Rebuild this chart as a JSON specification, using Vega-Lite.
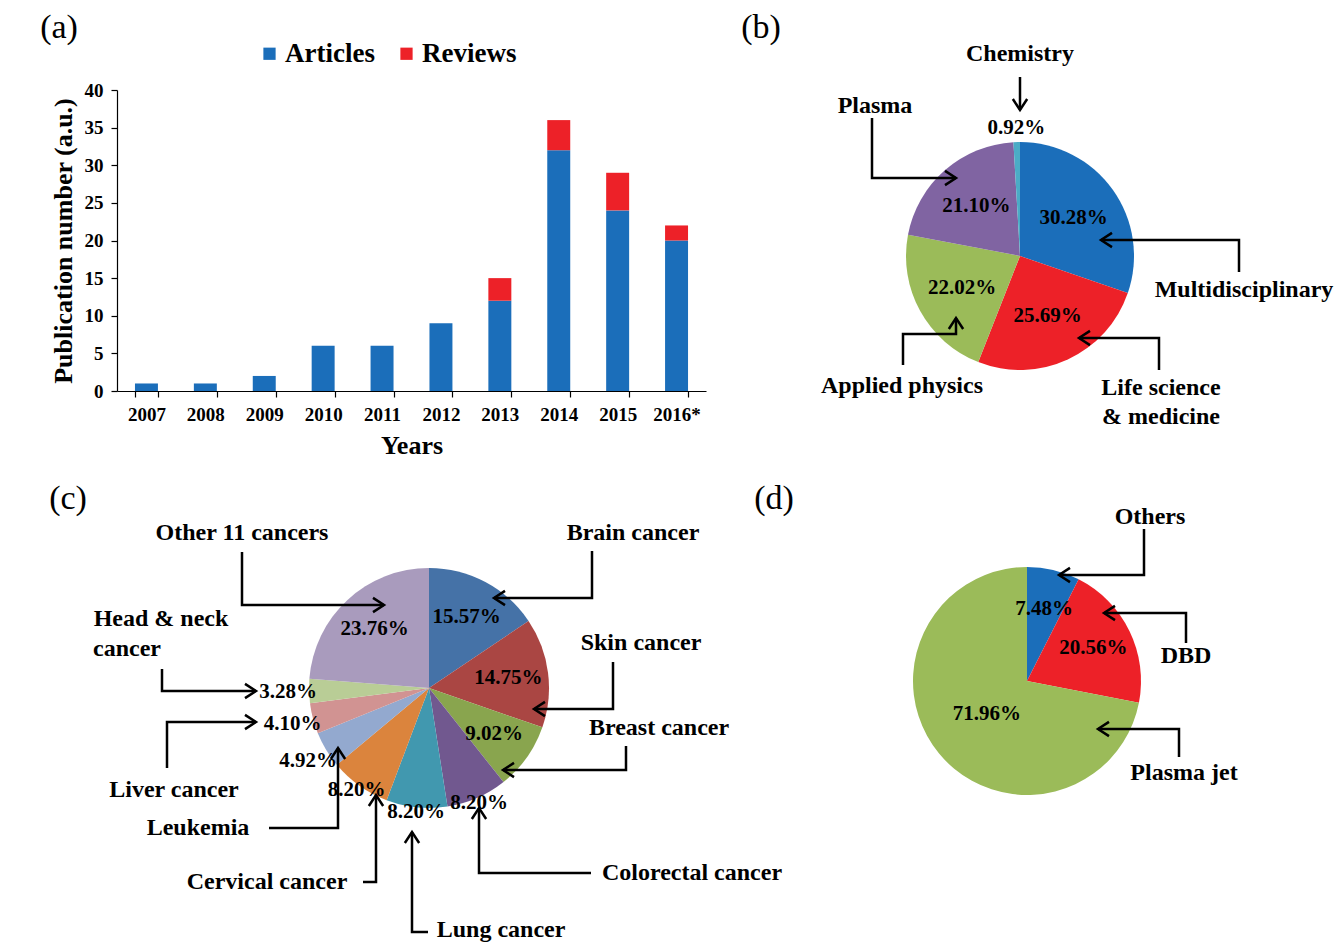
{
  "$schema": "https://vega.github.io/schema/vega-lite/v6.json",
  "background": "white",
  "padding": {"left": 40, "top": 11, "right": 0, "bottom": 0},
  "config": {
    "view": {"stroke": null},
    "font": "Liberation Serif",
    "axis": {"domainColor": "black", "tickColor": "black", "labelColor": "black", "titleColor": "black", "labelFont": "Liberation Serif", "titleFont": "Liberation Serif", "labelFontWeight": "bold", "titleFontWeight": "bold", "labelFontSize": 19, "titleFontSize": 26, "grid": false, "tickSize": 6, "domainWidth": 1.2, "tickWidth": 1.2}
  },
  "resolve": {"scale": {"color": "independent", "shape": "independent", "theta": "independent"}, "legend": {"color": "independent", "shape": "independent"}},
  "columns": 2,
  "bounds": "flush",
  "align": "each",
  "spacing": {"row": 15, "column": 15},
  "datasets": {
    "pieB": [
      {"field": "Multidisciplinary", "share": 0.3028, "idx": 1},
      {"field": "Life science & medicine", "share": 0.2569, "idx": 2},
      {"field": "Applied physics", "share": 0.2202, "idx": 3},
      {"field": "Plasma", "share": 0.2110, "idx": 4},
      {"field": "Chemistry", "share": 0.0092, "idx": 5}
    ],
    "pieC": [
      {"field": "Brain cancer", "share": 0.1557, "idx": 1},
      {"field": "Skin cancer", "share": 0.1475, "idx": 2},
      {"field": "Breast cancer", "share": 0.0902, "idx": 3},
      {"field": "Colorectal cancer", "share": 0.0820, "idx": 4},
      {"field": "Lung cancer", "share": 0.0820, "idx": 5},
      {"field": "Cervical cancer", "share": 0.0820, "idx": 6},
      {"field": "Leukemia", "share": 0.0492, "idx": 7},
      {"field": "Liver cancer", "share": 0.0410, "idx": 8},
      {"field": "Head & neck cancer", "share": 0.0328, "idx": 9},
      {"field": "Other 11 cancers", "share": 0.2376, "idx": 10}
    ],
    "pieD": [
      {"field": "Others", "share": 0.0748, "idx": 1},
      {"field": "DBD", "share": 0.2056, "idx": 2},
      {"field": "Plasma jet", "share": 0.7196, "idx": 3}
    ],
    "arrowsB": [
      {"id": "chem", "seq": 1, "x": 1019, "y": 77},
      {"id": "chem", "seq": 2, "x": 1019, "y": 110, "dir": "down"},
      {"id": "plasma", "seq": 1, "x": 871, "y": 118},
      {"id": "plasma", "seq": 2, "x": 871, "y": 178},
      {"id": "plasma", "seq": 3, "x": 955, "y": 178, "dir": "right"},
      {"id": "multi", "seq": 1, "x": 1238, "y": 272},
      {"id": "multi", "seq": 2, "x": 1238, "y": 240},
      {"id": "multi", "seq": 3, "x": 1100, "y": 240, "dir": "left"},
      {"id": "life", "seq": 1, "x": 1158, "y": 370},
      {"id": "life", "seq": 2, "x": 1158, "y": 338},
      {"id": "life", "seq": 3, "x": 1078, "y": 338, "dir": "left"},
      {"id": "applied", "seq": 1, "x": 902, "y": 365},
      {"id": "applied", "seq": 2, "x": 902, "y": 334},
      {"id": "applied", "seq": 3, "x": 955, "y": 334},
      {"id": "applied", "seq": 4, "x": 955, "y": 318, "dir": "up"}
    ],
    "arrowsC": [
      {"id": "other", "seq": 1, "x": 241, "y": 552},
      {"id": "other", "seq": 2, "x": 241, "y": 605},
      {"id": "other", "seq": 3, "x": 383, "y": 605, "dir": "right"},
      {"id": "brain", "seq": 1, "x": 591, "y": 551},
      {"id": "brain", "seq": 2, "x": 591, "y": 598},
      {"id": "brain", "seq": 3, "x": 493, "y": 598, "dir": "left"},
      {"id": "head", "seq": 1, "x": 161, "y": 669},
      {"id": "head", "seq": 2, "x": 161, "y": 691},
      {"id": "head", "seq": 3, "x": 255, "y": 691, "dir": "right"},
      {"id": "liver", "seq": 1, "x": 166, "y": 768},
      {"id": "liver", "seq": 2, "x": 166, "y": 722},
      {"id": "liver", "seq": 3, "x": 255, "y": 722, "dir": "right"},
      {"id": "leuk", "seq": 1, "x": 268, "y": 828},
      {"id": "leuk", "seq": 2, "x": 337, "y": 828},
      {"id": "leuk", "seq": 3, "x": 337, "y": 748, "dir": "up"},
      {"id": "cerv", "seq": 1, "x": 362, "y": 882},
      {"id": "cerv", "seq": 2, "x": 375, "y": 882},
      {"id": "cerv", "seq": 3, "x": 375, "y": 795, "dir": "up"},
      {"id": "lung", "seq": 1, "x": 427, "y": 932},
      {"id": "lung", "seq": 2, "x": 411, "y": 932},
      {"id": "lung", "seq": 3, "x": 411, "y": 832, "dir": "up"},
      {"id": "colo", "seq": 1, "x": 590, "y": 873},
      {"id": "colo", "seq": 2, "x": 478, "y": 873},
      {"id": "colo", "seq": 3, "x": 478, "y": 808, "dir": "up"},
      {"id": "skin", "seq": 1, "x": 612, "y": 662},
      {"id": "skin", "seq": 2, "x": 612, "y": 709},
      {"id": "skin", "seq": 3, "x": 533, "y": 709, "dir": "left"},
      {"id": "breast", "seq": 1, "x": 625, "y": 746},
      {"id": "breast", "seq": 2, "x": 625, "y": 770},
      {"id": "breast", "seq": 3, "x": 502, "y": 770, "dir": "left"}
    ],
    "arrowsD": [
      {"id": "others", "seq": 1, "x": 1143, "y": 529},
      {"id": "others", "seq": 2, "x": 1143, "y": 575},
      {"id": "others", "seq": 3, "x": 1058, "y": 575, "dir": "left"},
      {"id": "dbd", "seq": 1, "x": 1185, "y": 643},
      {"id": "dbd", "seq": 2, "x": 1185, "y": 613},
      {"id": "dbd", "seq": 3, "x": 1103, "y": 613, "dir": "left"},
      {"id": "jet", "seq": 1, "x": 1178, "y": 757},
      {"id": "jet", "seq": 2, "x": 1178, "y": 729},
      {"id": "jet", "seq": 3, "x": 1097, "y": 729, "dir": "left"}
    ]
  },
  "concat": [
    {
      "width": 589,
      "height": 301,
      "data": {"values": [
        {"year": "2007", "type": "Articles", "count": 1},
        {"year": "2008", "type": "Articles", "count": 1},
        {"year": "2009", "type": "Articles", "count": 2},
        {"year": "2010", "type": "Articles", "count": 6},
        {"year": "2011", "type": "Articles", "count": 6},
        {"year": "2012", "type": "Articles", "count": 9},
        {"year": "2013", "type": "Articles", "count": 12},
        {"year": "2013", "type": "Reviews", "count": 3},
        {"year": "2014", "type": "Articles", "count": 32},
        {"year": "2014", "type": "Reviews", "count": 4},
        {"year": "2015", "type": "Articles", "count": 24},
        {"year": "2015", "type": "Reviews", "count": 5},
        {"year": "2016*", "type": "Articles", "count": 20},
        {"year": "2016*", "type": "Reviews", "count": 2}
      ]},
      "mark": {"type": "bar"},
      "encoding": {
        "x": {"field": "year", "type": "ordinal", "scale": {"paddingInner": 0.61, "paddingOuter": 0.305},
              "axis": {"title": "Years", "labelAngle": 0, "tickBand": "extent", "labelPadding": 8, "titlePadding": 8}},
        "y": {"field": "count", "type": "quantitative", "stack": "zero", "scale": {"domain": [0, 40], "nice": false},
              "axis": {"title": "Publication number (a.u.)", "values": [0, 5, 10, 15, 20, 25, 30, 35, 40], "labelPadding": 8, "titlePadding": 8}},
        "color": {"field": "type", "type": "nominal",
                  "scale": {"domain": ["Articles", "Reviews"], "range": ["#1B6EBA", "#ED2128"]},
                  "legend": {"orient": "none", "legendX": 139, "legendY": -50, "direction": "horizontal", "title": null,
                             "symbolType": "square", "symbolSize": 150, "symbolStrokeWidth": 0, "labelFontSize": 27,
                             "labelFontWeight": "bold", "labelFont": "Liberation Serif", "labelColor": "black",
                             "columnPadding": 18, "labelOffset": 2}},
        "order": {"field": "type", "sort": "ascending"}
      }
    },
    {
      "width": 600,
      "height": 301,
      "layer": [
        {
          "data": {"name": "pieB"},
          "mark": {"type": "arc", "outerRadius": 114},
          "encoding": {
            "x": {"datum": 1019, "type": "quantitative", "scale": {"domain": [720, 1320], "nice": false, "zero": false}, "axis": null},
            "y": {"datum": 256, "type": "quantitative", "scale": {"domain": [90, 391], "nice": false, "zero": false, "reverse": true}, "axis": null},
            "theta": {"field": "share", "type": "quantitative", "stack": true},
            "order": {"field": "idx", "type": "quantitative"},
            "color": {"field": "field", "type": "nominal",
                      "scale": {"domain": ["Multidisciplinary", "Life science & medicine", "Applied physics", "Plasma", "Chemistry"],
                                "range": ["#1B6EBA", "#ED2128", "#9BBB59", "#8064A2", "#4BACC6"]}, "legend": null}
          }
        },
        {
          "data": {"name": "pieB"},
          "mark": {"type": "text", "radius": {"expr": "datum.share < 0.02 ? 128 : 66"}, "fontSize": 21, "fontWeight": "bold", "font": "Liberation Serif", "color": "black"},
          "encoding": {
            "x": {"datum": 1019, "type": "quantitative", "axis": null},
            "y": {"datum": 256, "type": "quantitative", "axis": null},
            "theta": {"field": "share", "type": "quantitative", "stack": true},
            "order": {"field": "idx", "type": "quantitative"},
            "text": {"field": "share", "type": "quantitative", "format": ".2%"}
          }
        },
        {
          "data": {"name": "arrowsB"},
          "mark": {"type": "line", "color": "black", "strokeWidth": 2.5, "strokeCap": "butt"},
          "encoding": {
            "x": {"field": "x", "type": "quantitative", "axis": null},
            "y": {"field": "y", "type": "quantitative", "axis": null},
            "detail": {"field": "id"},
            "order": {"field": "seq", "type": "quantitative"}
          }
        },
        {
          "data": {"name": "arrowsB"},
          "transform": [{"filter": "isValid(datum.dir)"}],
          "mark": {"type": "point", "filled": false, "stroke": "black", "strokeWidth": 2.5, "size": 484, "opacity": 1},
          "encoding": {
            "x": {"field": "x", "type": "quantitative", "axis": null},
            "y": {"field": "y", "type": "quantitative", "axis": null},
            "shape": {"field": "dir", "type": "nominal", "legend": null,
                      "scale": {"domain": ["right", "left", "up", "down"],
                                "range": ["M-1,-0.65L0,0L-1,0.65", "M1,-0.65L0,0L1,0.65", "M-0.65,1L0,0L0.65,1", "M-0.65,-1L0,0L0.65,-1"]}}
          }
        },
        {
          "data": {"values": [
            {"label": "Chemistry", "x": 1019, "y": 54},
            {"label": "Plasma", "x": 874, "y": 106},
            {"label": "Multidisciplinary", "x": 1243, "y": 290},
            {"label": "Life science", "x": 1160, "y": 388},
            {"label": "& medicine", "x": 1160, "y": 417},
            {"label": "Applied physics", "x": 901, "y": 386}
          ]},
          "mark": {"type": "text", "fontSize": 24, "fontWeight": "bold", "font": "Liberation Serif", "color": "black", "align": "center", "baseline": "middle"},
          "encoding": {
            "x": {"field": "x", "type": "quantitative", "axis": null},
            "y": {"field": "y", "type": "quantitative", "axis": null},
            "text": {"field": "label"}
          }
        },
        {
          "data": {"values": [
            {"label": "(a)", "x": 58, "y": 28},
            {"label": "(b)", "x": 760, "y": 28}
          ]},
          "mark": {"type": "text", "fontSize": 34, "font": "Liberation Serif", "color": "black", "align": "center", "baseline": "middle"},
          "encoding": {
            "x": {"field": "x", "type": "quantitative", "axis": null},
            "y": {"field": "y", "type": "quantitative", "axis": null},
            "text": {"field": "label"}
          }
        }
      ]
    },
    {
      "width": 589,
      "height": 500,
      "layer": [
        {
          "data": {"name": "pieC"},
          "mark": {"type": "arc", "outerRadius": 120},
          "encoding": {
            "x": {"datum": 428, "type": "quantitative", "scale": {"domain": [116, 705], "nice": false, "zero": false}, "axis": null},
            "y": {"datum": 688, "type": "quantitative", "scale": {"domain": [406, 906], "nice": false, "zero": false, "reverse": true}, "axis": null},
            "theta": {"field": "share", "type": "quantitative", "stack": true},
            "order": {"field": "idx", "type": "quantitative"},
            "color": {"field": "field", "type": "nominal",
                      "scale": {"domain": ["Brain cancer", "Skin cancer", "Breast cancer", "Colorectal cancer", "Lung cancer", "Cervical cancer", "Leukemia", "Liver cancer", "Head & neck cancer", "Other 11 cancers"],
                                "range": ["#4572A7", "#AA4643", "#89A54E", "#71588F", "#4198AF", "#DB843D", "#93A9CF", "#D19392", "#B9CD96", "#A99BBD"]}, "legend": null}
          }
        },
        {
          "data": {"name": "pieC"},
          "mark": {"type": "text", "radius": {"expr": "datum.share >= 0.09 ? 80 : datum.share >= 0.05 ? 125 : 141"}, "fontSize": 21, "fontWeight": "bold", "font": "Liberation Serif", "color": "black"},
          "encoding": {
            "x": {"datum": 428, "type": "quantitative", "axis": null},
            "y": {"datum": 688, "type": "quantitative", "axis": null},
            "theta": {"field": "share", "type": "quantitative", "stack": true},
            "order": {"field": "idx", "type": "quantitative"},
            "text": {"field": "share", "type": "quantitative", "format": ".2%"}
          }
        },
        {
          "data": {"name": "arrowsC"},
          "mark": {"type": "line", "color": "black", "strokeWidth": 2.5, "strokeCap": "butt"},
          "encoding": {
            "x": {"field": "x", "type": "quantitative", "axis": null},
            "y": {"field": "y", "type": "quantitative", "axis": null},
            "detail": {"field": "id"},
            "order": {"field": "seq", "type": "quantitative"}
          }
        },
        {
          "data": {"name": "arrowsC"},
          "transform": [{"filter": "isValid(datum.dir)"}],
          "mark": {"type": "point", "filled": false, "stroke": "black", "strokeWidth": 2.5, "size": 484, "opacity": 1},
          "encoding": {
            "x": {"field": "x", "type": "quantitative", "axis": null},
            "y": {"field": "y", "type": "quantitative", "axis": null},
            "shape": {"field": "dir", "type": "nominal", "legend": null,
                      "scale": {"domain": ["right", "left", "up", "down"],
                                "range": ["M-1,-0.65L0,0L-1,0.65", "M1,-0.65L0,0L1,0.65", "M-0.65,1L0,0L0.65,1", "M-0.65,-1L0,0L0.65,-1"]}}
          }
        },
        {
          "data": {"values": [
            {"label": "Other 11 cancers", "x": 241, "y": 533},
            {"label": "Brain cancer", "x": 632, "y": 533},
            {"label": "Head & neck", "x": 160, "y": 619},
            {"label": "cancer", "x": 126, "y": 649},
            {"label": "Skin cancer", "x": 640, "y": 643},
            {"label": "Breast cancer", "x": 658, "y": 728},
            {"label": "Liver cancer", "x": 173, "y": 790},
            {"label": "Leukemia", "x": 197, "y": 828},
            {"label": "Cervical cancer", "x": 266, "y": 882},
            {"label": "Colorectal cancer", "x": 691, "y": 873},
            {"label": "Lung cancer", "x": 500, "y": 930}
          ]},
          "mark": {"type": "text", "fontSize": 24, "fontWeight": "bold", "font": "Liberation Serif", "color": "black", "align": "center", "baseline": "middle"},
          "encoding": {
            "x": {"field": "x", "type": "quantitative", "axis": null},
            "y": {"field": "y", "type": "quantitative", "axis": null},
            "text": {"field": "label"}
          }
        },
        {
          "data": {"values": [{"label": "(c)", "x": 67, "y": 499}]},
          "mark": {"type": "text", "fontSize": 34, "font": "Liberation Serif", "color": "black", "align": "center", "baseline": "middle"},
          "encoding": {
            "x": {"field": "x", "type": "quantitative", "axis": null},
            "y": {"field": "y", "type": "quantitative", "axis": null},
            "text": {"field": "label"}
          }
        }
      ]
    },
    {
      "width": 600,
      "height": 500,
      "layer": [
        {
          "data": {"name": "pieD"},
          "mark": {"type": "arc", "outerRadius": 114},
          "encoding": {
            "x": {"datum": 1026, "type": "quantitative", "scale": {"domain": [720, 1320], "nice": false, "zero": false}, "axis": null},
            "y": {"datum": 681, "type": "quantitative", "scale": {"domain": [406, 906], "nice": false, "zero": false, "reverse": true}, "axis": null},
            "theta": {"field": "share", "type": "quantitative", "stack": true},
            "order": {"field": "idx", "type": "quantitative"},
            "color": {"field": "field", "type": "nominal",
                      "scale": {"domain": ["Others", "DBD", "Plasma jet"], "range": ["#1B6EBA", "#ED2128", "#9BBB59"]}, "legend": null}
          }
        },
        {
          "data": {"name": "pieD"},
          "mark": {"type": "text", "radius": {"expr": "datum.share > 0.5 ? 52 : 74"}, "fontSize": 21, "fontWeight": "bold", "font": "Liberation Serif", "color": "black"},
          "encoding": {
            "x": {"datum": 1026, "type": "quantitative", "axis": null},
            "y": {"datum": 681, "type": "quantitative", "axis": null},
            "theta": {"field": "share", "type": "quantitative", "stack": true},
            "order": {"field": "idx", "type": "quantitative"},
            "text": {"field": "share", "type": "quantitative", "format": ".2%"}
          }
        },
        {
          "data": {"name": "arrowsD"},
          "mark": {"type": "line", "color": "black", "strokeWidth": 2.5, "strokeCap": "butt"},
          "encoding": {
            "x": {"field": "x", "type": "quantitative", "axis": null},
            "y": {"field": "y", "type": "quantitative", "axis": null},
            "detail": {"field": "id"},
            "order": {"field": "seq", "type": "quantitative"}
          }
        },
        {
          "data": {"name": "arrowsD"},
          "transform": [{"filter": "isValid(datum.dir)"}],
          "mark": {"type": "point", "filled": false, "stroke": "black", "strokeWidth": 2.5, "size": 484, "opacity": 1},
          "encoding": {
            "x": {"field": "x", "type": "quantitative", "axis": null},
            "y": {"field": "y", "type": "quantitative", "axis": null},
            "shape": {"field": "dir", "type": "nominal", "legend": null,
                      "scale": {"domain": ["right", "left", "up", "down"],
                                "range": ["M-1,-0.65L0,0L-1,0.65", "M1,-0.65L0,0L1,0.65", "M-0.65,1L0,0L0.65,1", "M-0.65,-1L0,0L0.65,-1"]}}
          }
        },
        {
          "data": {"values": [
            {"label": "Others", "x": 1149, "y": 517},
            {"label": "DBD", "x": 1185, "y": 656},
            {"label": "Plasma jet", "x": 1183, "y": 773}
          ]},
          "mark": {"type": "text", "fontSize": 24, "fontWeight": "bold", "font": "Liberation Serif", "color": "black", "align": "center", "baseline": "middle"},
          "encoding": {
            "x": {"field": "x", "type": "quantitative", "axis": null},
            "y": {"field": "y", "type": "quantitative", "axis": null},
            "text": {"field": "label"}
          }
        },
        {
          "data": {"values": [{"label": "(d)", "x": 773, "y": 499}]},
          "mark": {"type": "text", "fontSize": 34, "font": "Liberation Serif", "color": "black", "align": "center", "baseline": "middle"},
          "encoding": {
            "x": {"field": "x", "type": "quantitative", "axis": null},
            "y": {"field": "y", "type": "quantitative", "axis": null},
            "text": {"field": "label"}
          }
        }
      ]
    }
  ]
}
